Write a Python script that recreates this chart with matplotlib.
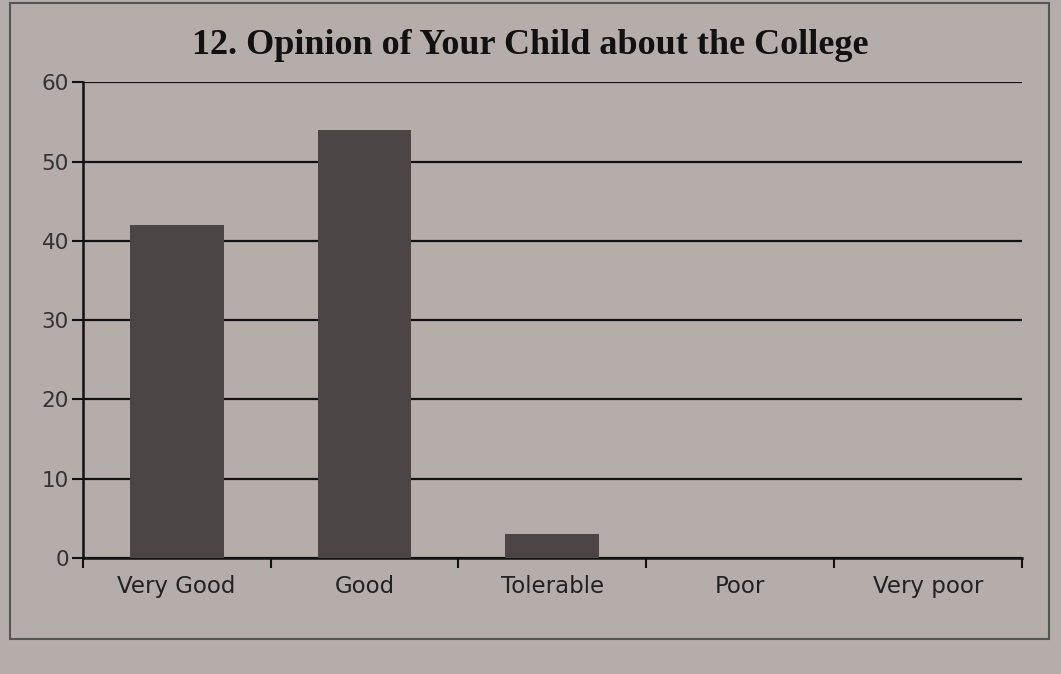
import numpy as np
import matplotlib.pyplot as plt
from matplotlib.patches import Rectangle

# Opinion categories and percentages
categories = ['Very Good', 'Good', 'Tolerable', 'Poor', 'Very poor']
values = [42, 54, 3, 0, 0]
y_ticks = [0, 10, 20, 30, 40, 50, 60]

paper = '#b4adaa'
bar_color = '#4b4546'

fig = plt.figure(figsize=(10.61, 6.74), dpi=100, facecolor=paper)
ax = fig.add_axes([0.078, 0.172, 0.885, 0.706], facecolor=paper)

x = np.arange(len(categories))
ax.bar(x, values, width=0.5, color=bar_color, zorder=3)

ax.set_ylim(0, 60)
ax.set_xlim(-0.5, len(categories) - 0.5)
ax.set_yticks(y_ticks)
ax.yaxis.grid(True, color='#111111', linewidth=1.6, zorder=1)

# category labels in the middle, tick marks at the boundaries
ax.set_xticks(x)
ax.set_xticklabels(categories, fontsize=16.5, color='#222222')
ax.tick_params(axis='x', length=0, pad=12)
ax.set_xticks(np.arange(-0.5, len(categories)), minor=True)
ax.tick_params(axis='x', which='minor', length=7, width=1.5, color='#111111')
ax.tick_params(axis='y', length=8, width=1.5, color='#111111', labelsize=15.5,
               labelcolor='#333333', pad=2)

for side in ['top', 'right']:
    ax.spines[side].set_visible(False)
ax.spines['left'].set_linewidth(1.8)
ax.spines['bottom'].set_linewidth(1.8)
ax.spines['left'].set_color('#111111')
ax.spines['bottom'].set_color('#111111')

fig.text(0.5, 0.932, '12. Opinion of Your Child about the College',
         ha='center', va='center', fontsize=26, fontweight='bold',
         family='Liberation Serif', color='#111111')

# border of the chart area
fig.patches.append(Rectangle((0.009, 0.052), 0.98, 0.943, transform=fig.transFigure,
                             fill=False, edgecolor='#555555', linewidth=1.5))

fig.savefig('out.png', dpi=100, facecolor=paper)
